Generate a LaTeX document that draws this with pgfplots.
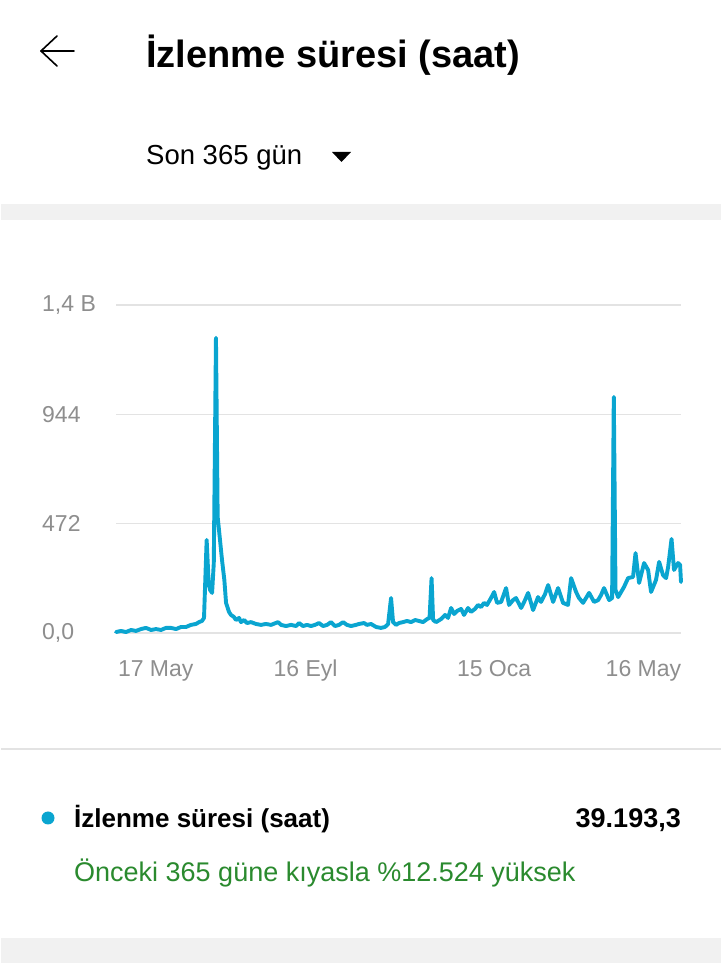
\documentclass[border=0pt]{standalone}
\usepackage{fontspec}
\setmainfont{Liberation Sans}
\usepackage{pgfplots}
\usepackage{pgfplotstable}
\pgfplotsset{compat=1.18}
\definecolor{ytblue}{HTML}{0AA5D0}
\definecolor{gridgray}{HTML}{E3E3E3}
\definecolor{labgray}{HTML}{8E8E8E}
\definecolor{bandgray}{HTML}{F1F1F1}
\definecolor{okgreen}{HTML}{2A8A2E}

\pgfplotstableread{
day value
0 4
3.2 9
6.4 4
9.7 13
12.9 9
16.1 17
19.3 22
22.6 13
25.8 17
29.0 13
32.2 22
35.4 22
38.7 17
41.9 26
45.1 26
48.3 35
51.5 39
53.5 47
55.4 52
56.7 65
58.4 402
59.7 216
60.6 186
61.9 173
63.0 302
64.4 1274
65.5 501
67.0 402
68.3 315
69.8 229
70.9 130
72.8 91
74.1 78
76.0 69
77.3 56
79.3 65
80.5 47
82.5 56
84.4 43
87.0 47
90.2 39
93.4 35
96.6 39
99.9 35
104.4 47
106.3 35
109.5 30
112.8 35
116.0 30
117.9 43
120.5 30
123.1 35
125.6 30
128.2 35
130.8 43
133.4 30
136.0 35
138.5 47
141.1 30
143.7 35
146.3 47
148.8 35
151.4 30
154.6 35
156.6 39
159.8 43
161.7 35
164.3 39
167.5 26
170.7 22
173.3 26
175.3 39
177.2 151
178.5 47
180.4 35
182.3 43
184.9 47
187.5 52
190.1 47
192.7 56
195.2 52
197.8 47
200.4 60
202.0 65
203.3 237
204.3 56
206.2 47
209.4 60
212.0 78
213.9 65
215.9 108
217.8 82
219.7 95
222.3 104
224.2 78
226.8 108
228.7 91
231.3 104
233.2 121
235.2 112
237.1 130
239.0 121
241.6 151
243.6 177
245.5 130
248.1 134
251.3 194
253.2 121
255.8 142
257.7 151
261.0 108
263.5 142
265.5 173
268.7 99
271.9 155
273.8 134
276.4 168
278.4 207
281.6 134
284.8 194
288.0 130
291.2 121
293.2 237
296.4 177
298.3 151
300.9 130
304.8 173
308.0 134
310.6 142
312.5 164
314.4 194
317.7 142
319.6 151
320.7 1019
321.8 186
323.5 155
325.4 177
327.3 199
329.9 237
333.1 242
334.7 345
337.0 216
340.2 302
342.8 272
344.7 177
347.9 229
349.9 307
352.4 250
354.4 237
355.7 285
357.9 406
359.5 272
362.1 302
363.4 294
364.0 220
}\wtdata

\begin{document}
\begin{tikzpicture}[x=1pt,y=1pt]
% page background
\fill[white] (0pt,0pt) rectangle (720pt,963pt);
\fill[bandgray] (0pt,743pt) rectangle (720pt,759pt);
\fill[bandgray] (0pt,0pt) rectangle (720pt,25pt);
\draw[gridgray, line width=2pt] (0pt,214pt) -- (720pt,214pt);

% back arrow
\draw[line width=1.6pt, line cap=round, line join=round] (73pt,912pt) -- (40pt,912pt);
\draw[line width=1.6pt, line cap=round, line join=round] (56pt,927pt) -- (40pt,912pt) -- (56pt,897pt);

% title and period selector
\node[anchor=base west, inner sep=0] at (145pt,895pt)
  {\fontsize{38}{45}\selectfont\bfseries İzlenme süresi (saat)};
\node[anchor=base west, inner sep=0] at (145pt,798pt)
  {\fontsize{27.5}{33}\selectfont Son 365 gün};
\fill (331pt,811pt) -- (350pt,811pt) -- (340.5pt,801pt) -- cycle;

\begin{axis}[
  at={(115pt,330pt)}, anchor=south west,
  scale only axis, width=565pt, height=328pt,
  xmin=0, xmax=364, ymin=0, ymax=1416,
  clip=false,
  axis line style={draw=none},
  major tick length=0pt,
  tick style={draw=none},
  ymajorgrids,
  grid style={color=gridgray, line width=1.6pt},
  ytick={0,472,944,1416},
  yticklabels={{0,0},472,944,{1,4 B}},
  xtick={25.6,122.1,243.6,339.8},
  xticklabels={17 May,16 Eyl,15 Oca,16 May},
  /pgf/number format/assume math mode=true,
  ticklabel style={font=\fontsize{23}{27}\selectfont, text=labgray, inner sep=0pt},
  yticklabel style={anchor=west, xshift=-74pt},
  xticklabel style={anchor=north, yshift=-27pt},
]
\addplot[ytblue, line width=3.9pt, line join=round, line cap=round] table[x=day, y=value] {\wtdata};
\end{axis}

% summary / legend
\fill[ytblue] (47pt,145pt) circle (6.5pt);
\node[anchor=base west, inner sep=0] at (73pt,135pt)
  {\fontsize{26}{31}\selectfont\bfseries İzlenme süresi (saat)};
\node[anchor=base east, inner sep=0] at (680pt,135pt)
  {\fontsize{27}{32}\selectfont\bfseries 39.193,3};
\node[anchor=base west, inner sep=0, text=okgreen] at (73pt,81pt)
  {\fontsize{27}{32}\selectfont Önceki 365 güne kıyasla \%12.524 yüksek};
\end{tikzpicture}
\end{document}
